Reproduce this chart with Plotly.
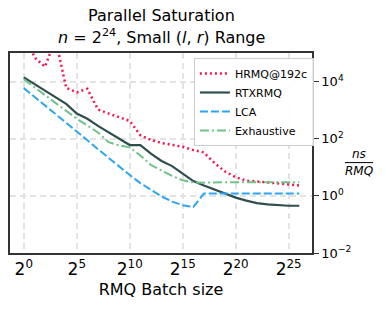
import plotly.graph_objects as go

# Batch size exponents (batch = 2**k)
batch_exp = list(range(0, 27))
batch_size = [2 ** k for k in batch_exp]

hrmq = [630000, 71000, 33000, 316000, 6000, 4200, 5600, 1050, 760, 560, 420, 132, 91,
        71, 60, 52, 40, 33, 14, 7.1, 4.5, 3.4, 3.2, 2.95, 2.75, 2.5, 2.3]
rtxrmq = [14000, 8300, 5000, 2800, 1660, 760, 500, 280, 166, 100, 60, 60, 30,
          16.6, 11, 6.0, 3.3, 2.3, 1.66, 1.15, 0.87, 0.68, 0.56, 0.50, 0.47, 0.45, 0.45]
lca = [5900, 2950, 1480, 740, 370, 186, 89, 43, 21, 10.5, 5.4, 2.8, 1.66,
       0.95, 0.63, 0.47, 0.41, 1.2, 1.2, 1.2, 1.2, 1.2, 1.2, 1.2, 1.2, 1.2, 1.2]
exhaustive = [12000, 6300, 3300, 1780, 930, 500, 290, 166, 76, 58, 50, 26, 12,
              7.6, 5.0, 3.5, 2.95, 2.9, 3.0, 3.0, 3.0, 3.0, 3.0, 3.0, 3.0, 3.0, 3.0]

x_tick_exp = [0, 5, 10, 15, 20, 25]
x_tick_text = ["2<sup>%d</sup>" % e for e in x_tick_exp]
y_tick_vals = [0.01, 1, 100, 10000]
y_tick_text = ["10<sup>\u22122</sup>", "10<sup>0</sup>", "10<sup>2</sup>", "10<sup>4</sup>"]

FONT = "DejaVu Sans"

fig = go.Figure()
fig.add_trace(go.Scatter(x=batch_size, y=hrmq, mode="lines", name="HRMQ@192c",
                         line=dict(color="#f2184f", width=2.5, dash="2px,3px")))
fig.add_trace(go.Scatter(x=batch_size, y=rtxrmq, mode="lines", name="RTXRMQ",
                         line=dict(color="#2f4f4f", width=2.2)))
fig.add_trace(go.Scatter(x=batch_size, y=lca, mode="lines", name="LCA",
                         line=dict(color="#2aa6f5", width=2, dash="8px,3px")))
fig.add_trace(go.Scatter(x=batch_size, y=exhaustive, mode="lines", name="Exhaustive",
                         line=dict(color="#6fc389", width=2, dash="9px,3px,2px,3px")))

fig.update_layout(
    width=386, height=311,
    margin=dict(l=10, r=74, t=53, b=58, autoexpand=False),
    paper_bgcolor="white", plot_bgcolor="white",
    font=dict(family=FONT, color="black"),
    showlegend=True,
    legend=dict(
        x=0.609, y=0.975, xanchor="left", yanchor="top",
        bgcolor="rgba(255,255,255,0.9)", bordercolor="#cccccc", borderwidth=1,
        font=dict(size=11, family=FONT), tracegroupgap=0,
    ),
    xaxis=dict(
        type="log", automargin=False,
        range=[-1.3 * 0.30103, 27.2 * 0.30103],
        tickvals=[2 ** e for e in x_tick_exp], ticktext=x_tick_text,
        tickfont=dict(size=17, family=FONT),
        showgrid=True, gridcolor="#e3e3e3", gridwidth=1.5, griddash="6px,4px",
        showline=True, mirror=True, linecolor="#333333", linewidth=1.5,
        ticks="", zeroline=False,
        title=dict(text="RMQ Batch size", font=dict(size=16, family=FONT), standoff=6),
    ),
    yaxis=dict(
        type="log", side="right", automargin=False,
        range=[-2, 5],
        tickvals=y_tick_vals, ticktext=y_tick_text,
        tickfont=dict(size=13, family=FONT),
        showgrid=True, gridcolor="#e3e3e3", gridwidth=1.5, griddash="6px,4px",
        showline=True, mirror=True, linecolor="#333333", linewidth=1.5,
        ticks="outside", ticklen=5, tickwidth=1.2, tickcolor="#333333",
        zeroline=False,
    ),
)

# Title lines
fig.add_annotation(text="Parallel Saturation", xref="paper", yref="paper", x=0.5, y=1.185,
                   showarrow=False, font=dict(size=16, family=FONT), xanchor="center", yanchor="middle")
fig.add_annotation(text="<i>n</i> = 2<sup>24</sup>, Small (<i>l</i>, <i>r</i>) Range",
                   xref="paper", yref="paper", x=0.5, y=1.08,
                   showarrow=False, font=dict(size=16, family=FONT), xanchor="center", yanchor="middle")

# y-axis label as a fraction ns / RMQ
fig.add_annotation(text="<i>ns</i>", xref="paper", yref="paper", x=1.156, y=0.453,
                   showarrow=False, font=dict(size=12, family=FONT), xanchor="center", yanchor="bottom",
                   borderpad=0)
fig.add_annotation(text="<i>RMQ</i>", xref="paper", yref="paper", x=1.156, y=0.451,
                   showarrow=False, font=dict(size=12, family=FONT), xanchor="center", yanchor="top",
                   borderpad=0)
fig.add_shape(type="line", xref="paper", yref="paper", x0=1.109, x1=1.202, y0=0.452, y1=0.452,
              line=dict(color="black", width=1))

fig.write_html("out.html", post_script="document.body.style.margin='0';",
               config={"displayModeBar": False})
